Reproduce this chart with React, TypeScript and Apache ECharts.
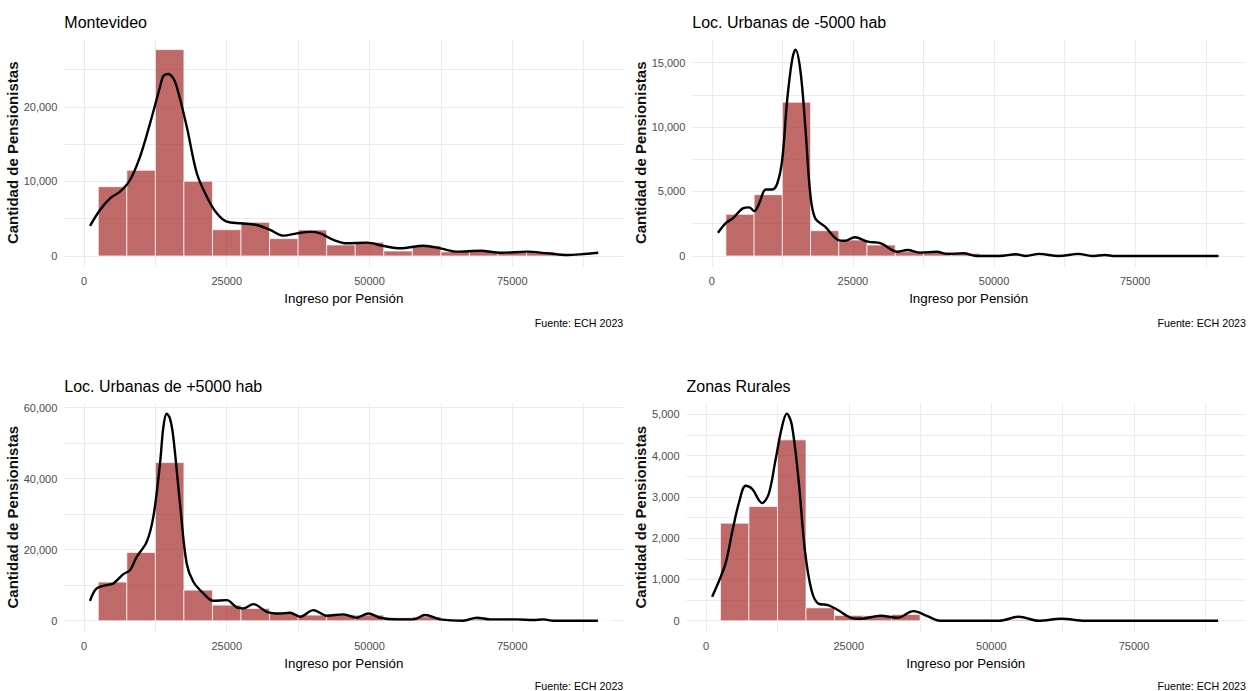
import React, { useEffect, useRef } from "react";
import * as echarts from "echarts";

// Histogram bins: centres of 5000-wide income bins
const BIN_CENTERS = [
  5000, 10000, 15000, 20000, 25000, 30000, 35000, 40000, 45000,
  50000, 55000, 60000, 65000, 70000, 75000, 80000, 85000, 90000,
];
const BIN_WIDTH = 5000;

// Income axis range (shared by all panels) and tick steps
const X_MIN = -3450;
const X_MAX = 94450;
const X_GRID_STEP = 12500;
const X_LABEL_STEP = 25000;

const PANEL_TITLES = [
  "Montevideo",
  "Loc. Urbanas de -5000 hab",
  "Loc. Urbanas de +5000 hab",
  "Zonas Rurales",
];

// Pensioner counts per bin
const MVD_COUNTS = [9300, 11500, 27700, 10030, 3530, 4520, 2330, 3490, 1480, 1840, 670, 1380, 560, 620, 480, 520, 0, 0];
const SMALL_COUNTS = [3230, 4750, 11920, 1960, 1240, 850, 330, 300, 200, 120, 80, 60, 60, 30, 20, 0, 0, 0];
const LARGE_COUNTS = [10880, 19230, 44530, 8630, 4410, 3480, 2070, 1600, 1700, 1600, 850, 1100, 400, 450, 300, 250, 100, 60];
const RURAL_COUNTS = [2363, 2766, 4381, 313, 130, 120, 154, 10, 0, 0, 30, 10, 0, 0, 0, 0, 0, 0];

// Density curves scaled to counts: [income, count]
const MVD_DENSITY = [
  [1050, 4030], [2800, 6170], [4560, 7740], [6310, 8630], [8060, 10200], [9820, 13330],
  [11570, 17810], [13320, 22720], [13900, 24160], [14780, 24430], [15650, 23850], [16250, 22720],
  [18000, 17360], [19760, 11100], [21510, 7960], [23260, 5730], [25020, 4600], [27350, 4390],
  [30270, 4160], [32610, 3490], [34940, 2730], [37280, 3040], [39620, 3230], [41370, 3040],
  [43710, 2150], [46050, 1700], [49550, 1790], [52470, 1340], [55400, 1030], [59480, 1380],
  [62400, 1030], [65330, 580], [69420, 710], [72930, 440], [77600, 580], [81100, 360],
  [84620, 130], [86960, 220], [90060, 440],
];
const SMALL_DENSITY = [
  [1100, 1800], [2570, 2580], [3730, 2920], [5480, 3690], [6650, 3770], [7520, 3480],
  [8400, 4080], [9570, 5160], [10730, 5160], [11600, 5620], [12470, 7430], [13350, 12070],
  [14220, 15170], [14820, 16000], [15690, 14400], [16570, 10010], [17440, 4850], [18320, 2920],
  [20070, 2270], [22390, 1240], [23570, 1180], [25320, 1450], [27640, 1110], [29970, 980],
  [32890, 330], [34640, 460], [36970, 260], [39890, 330], [41640, 160], [44560, 210],
  [46890, 0], [51000, 0], [53890, 130], [55640, 0], [57970, 160], [61470, 0], [64970, 160],
  [67310, 0], [69640, 80], [71390, 0], [89760, 0],
];
const LARGE_DENSITY = [
  [1050, 5620], [2220, 9110], [3970, 10040], [5140, 10510], [6890, 13130], [8060, 14250],
  [9230, 18000], [10980, 22210], [12140, 29240], [13310, 44250], [13900, 54500], [14480, 58310],
  [15060, 56900], [15640, 51730], [16810, 33000], [17980, 16140], [19150, 10970], [20900, 7700],
  [22650, 5620], [24990, 5820], [26740, 3770], [27900, 3480], [29650, 4690], [31990, 2530],
  [34320, 2060], [36080, 2250], [37830, 1120], [40170, 3000], [42500, 1410], [45420, 1800],
  [47750, 850], [49800, 2060], [51850, 850], [54770, 390], [57690, 390], [59740, 1600],
  [62370, 390], [66460, 0], [68790, 850], [71130, 390], [75800, 390], [78720, 200],
  [80470, 390], [82230, 0], [90000, 0],
];
const RURAL_DENSITY = [
  [1040, 580], [2300, 980], [3460, 1420], [4620, 2190], [5770, 2870], [6930, 3270],
  [8070, 3190], [9800, 2850], [10960, 3070], [12120, 3870], [13260, 4680], [14130, 5016],
  [14990, 4760], [16150, 3470], [17310, 1700], [18460, 740], [19620, 420], [21350, 380],
  [23080, 260], [25390, 72], [27120, 48], [30580, 120], [33470, 72], [36360, 234],
  [38660, 120], [40970, 0], [51350, 0], [54810, 96], [58280, 0], [62320, 48], [66360, 0],
  [89740, 0],
];

// Gridline and label steps on the count axis of each panel
const Y_GRID_STEPS = [5000, 2500, 10000, 500];
const Y_LABEL_STEPS = [10000, 5000, 20000, 1000];

const COUNTS = [MVD_COUNTS, SMALL_COUNTS, LARGE_COUNTS, RURAL_COUNTS];
const DENSITIES = [MVD_DENSITY, SMALL_DENSITY, LARGE_DENSITY, RURAL_DENSITY];

const CAPTION = "Fuente: ECH 2023";
const X_TITLE = "Ingreso por Pensión";
const Y_TITLE = "Cantidad de Pensionistas";

// Panel placement (plot areas) in the 1248 x 691 canvas
const LAYOUT = [
  { left: 64.3, top: 39.3, width: 559, height: 227 },
  { left: 692.3, top: 39.3, width: 560, height: 227 },
  { left: 64.3, top: 403.3, width: 559, height: 227.8 },
  { left: 686.5, top: 403.3, width: 566, height: 227.8 },
];

const W = 1248;
const H = 691;
const FONT = '"Liberation Sans", Arial, Helvetica, sans-serif';
const BAR_FILL = "rgba(165,42,42,0.7)";
const BAR_EDGE = "rgba(255,255,255,0.7)";
const GRID_COLOR = "#ebebeb";

function buildOption() {
  const grid: any[] = [];
  const xAxis: any[] = [];
  const yAxis: any[] = [];
  const series: any[] = [];
  const title: any[] = [];

  LAYOUT.forEach((box, i) => {
    const counts = COUNTS[i];
    const density = DENSITIES[i];
    const yTop = Math.max(...counts, ...density.map((d) => d[1]));
    const yStep = Y_GRID_STEPS[i];
    const yLabelStep = Y_LABEL_STEPS[i];

    grid.push({ left: box.left, top: box.top, width: box.width, height: box.height });

    xAxis.push({
      type: "value",
      gridIndex: i,
      min: X_MIN,
      max: X_MAX,
      minInterval: X_GRID_STEP,
      maxInterval: X_GRID_STEP,
      axisLine: { show: false },
      axisTick: { show: false },
      splitLine: {
        show: true,
        showMinLine: false,
        showMaxLine: false,
        lineStyle: { color: GRID_COLOR, width: 1 },
      },
      axisLabel: {
        margin: 9.5,
        color: "#4d4d4d",
        fontSize: 11,
        fontFamily: FONT,
        showMinLabel: true,
        showMaxLabel: true,
        formatter: (v: number) => (v >= 0 && v % X_LABEL_STEP === 0 ? String(v) : ""),
      },
      name: X_TITLE,
      nameLocation: "middle",
      nameGap: 25.5,
      nameTextStyle: { fontSize: 13.3, color: "#000", fontFamily: FONT },
    });

    yAxis.push({
      type: "value",
      gridIndex: i,
      min: -0.05 * yTop,
      max: 1.05 * yTop,
      minInterval: yStep,
      maxInterval: yStep,
      axisLine: { show: false },
      axisTick: { show: false },
      splitLine: {
        show: true,
        showMinLine: false,
        showMaxLine: false,
        lineStyle: { color: GRID_COLOR, width: 1 },
      },
      axisLabel: {
        margin: 7,
        color: "#4d4d4d",
        fontSize: 11,
        fontFamily: FONT,
        formatter: (v: number) =>
          v >= 0 && Math.abs(v % yLabelStep) < 1e-6 ? v.toLocaleString("en-US") : "",
      },
      name: Y_TITLE,
      nameLocation: "middle",
      nameGap: 39,
      nameTextStyle: { fontSize: 15, fontWeight: "bold", color: "#111", fontFamily: FONT },
    });

    // Histogram bars: each bin spans centre +/- half the bin width
    series.push({
      type: "custom",
      xAxisIndex: i,
      yAxisIndex: i,
      silent: true,
      z: 2,
      data: BIN_CENTERS.map((c, k) => [c, counts[k]]),
      encode: { x: 0, y: 1 },
      renderItem: (_params: any, api: any) => {
        const c = api.value(0);
        const v = api.value(1);
        if (!v) return null;
        const p0 = api.coord([c - BIN_WIDTH / 2, v]);
        const p1 = api.coord([c + BIN_WIDTH / 2, 0]);
        return {
          type: "rect",
          shape: { x: p0[0], y: p0[1], width: p1[0] - p0[0], height: p1[1] - p0[1] },
          style: { fill: BAR_FILL, stroke: BAR_EDGE, lineWidth: 1 },
        };
      },
    });

    // Density curve
    series.push({
      type: "line",
      xAxisIndex: i,
      yAxisIndex: i,
      silent: true,
      z: 3,
      data: density,
      showSymbol: false,
      smooth: 0.35,
      lineStyle: { color: "#000", width: 2.4 },
    });

    const top = box.top < 200;
    title.push({
      text: PANEL_TITLES[i],
      left: box.left,
      top: top ? 14.5 : 378.5,
      padding: 0,
      textStyle: { fontSize: 16, fontWeight: "normal", color: "#000", fontFamily: FONT },
    });
    // Caption sits at the panel's right edge, kept inside the canvas
    title.push({
      text: CAPTION,
      right: Math.max(2, W - (box.left + box.width)),
      top: top ? 317 : 680,
      padding: 0,
      textStyle: { fontSize: 10.7, fontWeight: "normal", color: "#000", fontFamily: FONT },
    });
  });

  return {
    animation: false,
    backgroundColor: "#ffffff",
    title,
    grid,
    xAxis,
    yAxis,
    series,
  };
}

export default function App() {
  const ref = useRef<HTMLDivElement>(null);

  useEffect(() => {
    if (!ref.current) return;
    const chart = echarts.init(ref.current, undefined, { renderer: "svg" });
    chart.setOption(buildOption());
    return () => chart.dispose();
  }, []);

  return (
    <div
      ref={ref}
      style={{ position: "absolute", left: 0, top: 0, width: W, height: H, overflow: "hidden" }}
    />
  );
}
